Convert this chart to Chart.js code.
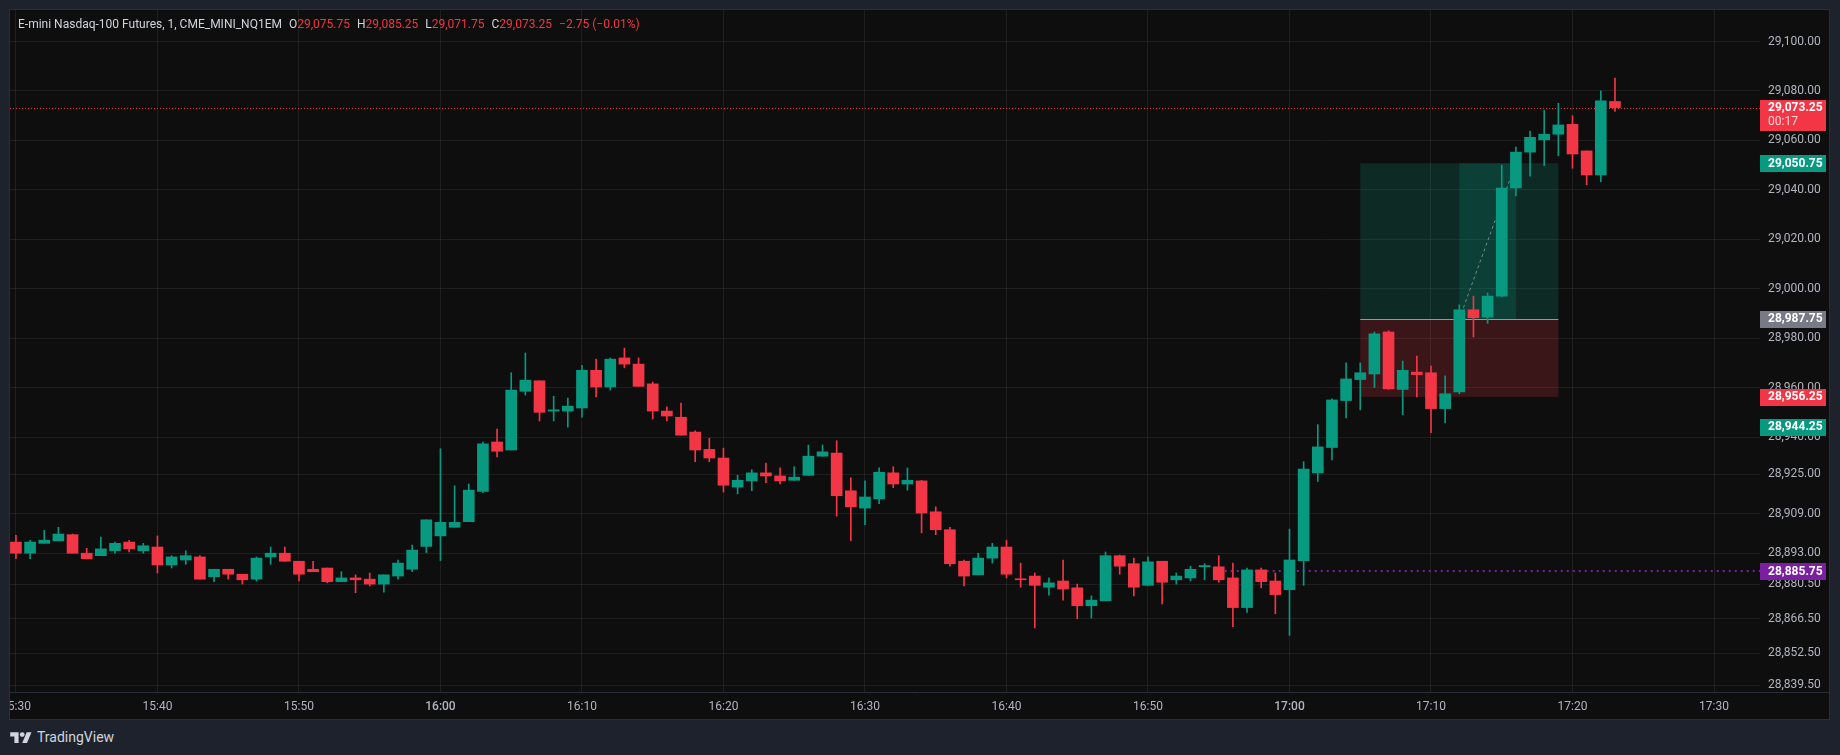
<!DOCTYPE html>
<html lang="en">
<head>
<meta charset="UTF-8">
<title>E-mini Nasdaq-100 Futures, 1, CME_MINI_NQ1EM</title>
<script src="https://cdn.jsdelivr.net/npm/chart.js@4.4.1/dist/chart.umd.min.js"></script>
<style>
    html, body { margin: 0; padding: 0; background: #1e222d; }
    body { width: 1840px; height: 755px; position: relative; overflow: hidden; font-family: Roboto, "Noto Sans", sans-serif; }
    #panel { position: absolute; left: 9px; top: 9px; width: 1821px; height: 711px; background: #0e0e0e; border: 1px solid #2a2e39; box-sizing: border-box; }
    #chart { position: absolute; left: 10px; top: 10px; }
    #legend { position: absolute; left: 18px; top: 16px; font-size: 12px; line-height: 16px; color: #d1d4dc; white-space: pre; }
    #legend .k { margin-left: 7px; }
    #legend .v { color: #f23645; }
    #brand { position: absolute; left: 10px; top: 729px; height: 16px; display: flex; align-items: center; color: #d1d4dc; font-size: 14px; }
    #brand svg { margin-right: 5px; }
</style>
</head>
<body>
<div id="panel"></div>
<canvas id="chart" width="1819" height="709"></canvas>
<div id="legend"></div>
<div id="brand">
    <svg width="22" height="12" viewBox="0 0 36 20"><path fill="#d1d4dc" d="M14 20H7V9H0V2h14v18zM28 20h-8l7.5-18h8L28 20z"/><circle fill="#d1d4dc" cx="20" cy="6" r="4"/></svg>
    <span>TradingView</span>
</div>
<script>
// ---- データ ----
const symbolTitle = 'E-mini Nasdaq-100 Futures, 1, CME_MINI_NQ1EM';

const times = [
    '15:30','15:31','15:32','15:33','15:34','15:35','15:36','15:37','15:38','15:39',
    '15:40','15:41','15:42','15:43','15:44','15:45','15:46','15:47','15:48','15:49',
    '15:50','15:51','15:52','15:53','15:54','15:55','15:56','15:57','15:58','15:59',
    '16:00','16:01','16:02','16:03','16:04','16:05','16:06','16:07','16:08','16:09',
    '16:10','16:11','16:12','16:13','16:14','16:15','16:16','16:17','16:18','16:19',
    '16:20','16:21','16:22','16:23','16:24','16:25','16:26','16:27','16:28','16:29',
    '16:30','16:31','16:32','16:33','16:34','16:35','16:36','16:37','16:38','16:39',
    '16:40','16:41','16:42','16:43','16:44','16:45','16:46','16:47','16:48','16:49',
    '16:50','16:51','16:52','16:53','16:54','16:55','16:56','16:57','16:58','16:59',
    '17:00','17:01','17:02','17:03','17:04','17:05','17:06','17:07','17:08','17:09',
    '17:10','17:11','17:12','17:13','17:14','17:15','17:16','17:17','17:18','17:19',
    '17:20','17:21','17:22','17:23'
];

const open = [
    28897.5, 28893, 28897, 28898, 28900.5, 28893, 28892, 28894, 28897.5, 28894,
    28895.5, 28888.25, 28890.25, 28891.5, 28883.5, 28886.5, 28884.5, 28882.5, 28891.5, 28893,
    28889.75, 28886.5, 28887, 28881.5, 28883, 28882.5, 28880.5, 28883.75, 28886.5, 28895.75,
    28900, 28903.5, 28905.75, 28918, 28938, 28934.75, 28958.5, 28962.75, 28950.5, 28950.5,
    28951.75, 28967, 28960.25, 28972, 28969.5, 28961.5, 28950.5, 28948, 28942, 28935,
    28931.5, 28919.75, 28922.25, 28925.5, 28924.25, 28922.5, 28924.5, 28932.25, 28933.5, 28918.25,
    28911.25, 28915, 28925.5, 28921, 28922.25, 28909.75, 28902.5, 28889.75, 28884.25, 28891,
    28895.5, 28882.5, 28883.75, 28879.25, 28881.75, 28879, 28871.75, 28873.75, 28892, 28888.75,
    28880, 28889.75, 28882.25, 28883, 28887.5, 28887.5, 28883, 28871, 28886.25, 28881.75,
    28878.25, 28890, 28925.5, 28935.75, 28954.75, 28963.25, 28965.5, 28982.5, 28959.25, 28966.25,
    28966, 28951.5, 28958.25, 28991.5, 28988.5, 28997, 29040.75, 29055.25, 29060.25, 29062.5,
    29066.5, 29055.75, 29046, 29075.75
];
const high = [
    28900.25, 28898.25, 28902.25, 28903.5, 28900.75, 28895, 28899.5, 28897.5, 28898.25, 28897,
    28900, 28892, 28894, 28892, 28886.5, 28886.5, 28884.5, 28891.5, 28895.5, 28895.5,
    28889.75, 28889.75, 28887, 28885.5, 28884.25, 28885, 28884.25, 28890.25, 28896.25, 28906.5,
    28935.25, 28920.25, 28921, 28938, 28943.25, 28966, 28974, 28962.75, 28956.5, 28955.75,
    28969, 28971.5, 28972, 28976, 28972, 28962.25, 28952.25, 28953.75, 28942.5, 28939.5,
    28935.5, 28924.5, 28926.75, 28929.5, 28927.5, 28928, 28936.75, 28936.75, 28938.5, 28923.5,
    28922.25, 28927.5, 28928, 28927.5, 28922.5, 28911.75, 28903.5, 28890.25, 28893, 28897,
    28898.25, 28889, 28885, 28883, 28890.25, 28880.5, 28875.75, 28893.5, 28892.25, 28891,
    28891.5, 28889.75, 28885, 28887.75, 28888.75, 28892, 28889, 28887, 28887, 28885,
    28902.75, 28930, 28945, 28955.5, 28970, 28970, 28982.5, 28983, 28970.75, 28972.75,
    28968.75, 28964.75, 28993.5, 28997, 28998.25, 29050, 29057.25, 29063.75, 29072.25, 29075,
    29070, 29055.75, 29080, 29085.25
];
const low = [
    28890.75, 28890.75, 28897, 28898, 28893, 28890.75, 28892, 28893, 28893.5, 28893,
    28885, 28887, 28888.5, 28882.5, 28881.5, 28882.5, 28880.5, 28881.75, 28888.5, 28889.75,
    28881.75, 28885.5, 28881, 28881.5, 28877, 28879.75, 28877.25, 28882.5, 28885.5, 28893.25,
    28890, 28903.5, 28905.75, 28917.5, 28932, 28934.75, 28957, 28946.5, 28946.5, 28944,
    28948, 28956.25, 28959, 28968, 28960.5, 28947.25, 28946.5, 28940.75, 28930, 28930,
    28917.75, 28917, 28918.25, 28921.5, 28921, 28922.5, 28924.5, 28932.25, 28908, 28898,
    28904.5, 28913, 28919.5, 28918.5, 28901.25, 28900.5, 28887.75, 28879.75, 28884.25, 28889,
    28883, 28879.25, 28862.75, 28876, 28874, 28866.5, 28866.75, 28873.75, 28884.5, 28875.75,
    28880, 28872.5, 28880.5, 28881.75, 28882.25, 28881.25, 28863.25, 28869, 28879, 28868.5,
    28859.75, 28880, 28922, 28930.75, 28947.75, 28951, 28960, 28959.25, 28949, 28956.25,
    28941.75, 28945.75, 28957.5, 28980.5, 28986, 28996.75, 29037.5, 29045.5, 29049.75, 29053.75,
    29048.75, 29042, 29043.25, 29071.75
];
const close = [
    28893, 28897.5, 28898.25, 28900.75, 28893, 28890.75, 28894.75, 28897, 28894.75, 28896,
    28888.25, 28891.5, 28892, 28882.5, 28886.5, 28884.5, 28882.25, 28891, 28893, 28889.75,
    28884.5, 28885.5, 28881.5, 28883, 28882.25, 28880.5, 28884.25, 28889, 28894.25, 28906.5,
    28905.5, 28905.5, 28918.5, 28937.25, 28934.25, 28959, 28963, 28950, 28951, 28952.5,
    28967, 28960.25, 28971.5, 28969.5, 28960.5, 28950.5, 28948.5, 28940.75, 28934.75, 28931.5,
    28920.5, 28922.5, 28925.5, 28924.25, 28922.25, 28923.75, 28932.25, 28934, 28916.25, 28911.75,
    28915.75, 28925.75, 28921, 28922.5, 28909.25, 28902.5, 28888.75, 28883.75, 28891, 28895.5,
    28884.5, 28882.25, 28880, 28881, 28878.5, 28871.75, 28874, 28892, 28887.75, 28879.25,
    28889.5, 28881.25, 28883.75, 28886.5, 28888, 28882.25, 28871, 28886.25, 28881.5, 28876.25,
    28890.25, 28927, 28936, 28955, 28963.5, 28966, 28981.75, 28959.5, 28967, 28965.25,
    28951.5, 28957.5, 28991.5, 28988.25, 28997, 29040.75, 29055.25, 29061.25, 29062.5, 29066.25,
    29054.5, 29046, 29076, 29073.25
];

// 軸の目盛り
const priceTicks = [28839.5, 28852.5, 28866.5, 28880.5, 28893, 28909, 28925, 28940, 28960, 28980, 29000, 29020, 29040, 29060, 29080, 29100];
const timeTicks = ['15:30','15:40','15:50','16:00','16:10','16:20','16:30','16:40','16:50','17:00','17:10','17:20','17:30'];
const priceMin = 28836.85;
const priceMax = 29112.75;
const timeMin = -0.42;
const timeMax = 123.25;

// ロングポジション
const positionStart = '17:05';
const positionEnd = '17:19';
const fillStart = '17:12';
const fillEnd = '17:16';
const entryPrice = 28987.75;
const targetPrice = 29050.75;
const stopPrice = 28956.25;

// 価格ラベル
const countdown = '00:17';
const otherPrice = 28944.25;
const alertPrice = 28885.75;
const alertStart = '16:55';

const upColor = '#089981';
const downColor = '#f23645';

// ---- ヘルパー ----
const originMin = 15 * 60 + 30;
function toMin(t) {
    const [h, m] = t.split(':').map(Number);
    return h * 60 + m - originMin;
}
function toLabel(v) {
    const t = originMin + Math.round(v);
    return Math.floor(t / 60) + ':' + String(t % 60).padStart(2, '0');
}
function fmt(v) {
    return v.toLocaleString('en-US', { minimumFractionDigits: 2, maximumFractionDigits: 2 });
}

// ヘッダー (凡例)
const last = times.length - 1;
const lastPrice = close[last];
const change = close[last] - close[last - 1];
const changePct = change / close[last - 1] * 100;
const minus = s => s.replace('-', '\u2212');
const legend = document.getElementById('legend');
legend.innerHTML =
    '<span>' + symbolTitle + '</span>' +
    '<span class="k">O</span><span class="v">' + fmt(open[last]) + '</span>' +
    '<span class="k">H</span><span class="v">' + fmt(high[last]) + '</span>' +
    '<span class="k">L</span><span class="v">' + fmt(low[last]) + '</span>' +
    '<span class="k">C</span><span class="v">' + fmt(close[last]) + '</span>' +
    '<span class="k v">' + minus(change.toFixed(2)) + ' (' + minus(changePct.toFixed(2)) + '%)</span>';

const dirColors = open.map((o, i) => close[i] >= o ? upColor : downColor);

// ---- 描画プラグイン ----
const overlayPlugin = {
    id: 'overlay',
    beforeDatasetsDraw(chart) {
        const ctx = chart.ctx, x = chart.scales.x, y = chart.scales.y, area = chart.chartArea;
        ctx.save();
        const xl = x.getPixelForValue(toMin(positionStart));
        const xr = x.getPixelForValue(toMin(positionEnd));
        const yE = y.getPixelForValue(entryPrice);
        const yT = y.getPixelForValue(targetPrice);
        const yS = y.getPixelForValue(stopPrice);
        ctx.fillStyle = 'rgba(8, 153, 129, 0.2)';
        ctx.fillRect(xl, yT, xr - xl, yE - yT);
        ctx.fillStyle = 'rgba(242, 54, 69, 0.2)';
        ctx.fillRect(xl, yE, xr - xl, yS - yE);
        const xf1 = x.getPixelForValue(toMin(fillStart));
        const xf2 = x.getPixelForValue(toMin(fillEnd));
        ctx.fillStyle = 'rgba(8, 153, 129, 0.2)';
        ctx.fillRect(xf1, yT, xf2 - xf1, yE - yT);

        // エントリーライン
        ctx.strokeStyle = '#9598a1';
        ctx.lineWidth = 1;
        ctx.beginPath();
        ctx.moveTo(xl, Math.round(yE) + 0.5);
        ctx.lineTo(xr, Math.round(yE) + 0.5);
        ctx.stroke();

        // 破線
        ctx.setLineDash([3, 3]);
        ctx.strokeStyle = 'rgba(149, 152, 161, 0.8)';
        ctx.beginPath();
        ctx.moveTo(xf1, yE);
        ctx.lineTo(xf2, yT);
        ctx.stroke();

        // 現在値ライン
        const yL = Math.round(y.getPixelForValue(lastPrice)) + 0.5;
        ctx.setLineDash([1, 2]);
        ctx.strokeStyle = downColor;
        ctx.beginPath();
        ctx.moveTo(area.left, yL);
        ctx.lineTo(area.right, yL);
        ctx.stroke();

        // アラートライン
        const yA = Math.round(y.getPixelForValue(alertPrice));
        ctx.setLineDash([2, 4]);
        ctx.lineWidth = 2;
        ctx.strokeStyle = '#7b1fa2';
        ctx.beginPath();
        ctx.moveTo(x.getPixelForValue(toMin(alertStart)), yA);
        ctx.lineTo(area.right, yA);
        ctx.stroke();
        ctx.restore();
    },
    afterDraw(chart) {
        const ctx = chart.ctx, y = chart.scales.y, area = chart.chartArea;
        ctx.save();
        // 時間軸の区切り線
        ctx.strokeStyle = '#2a2e39';
        ctx.lineWidth = 1;
        ctx.beginPath();
        ctx.moveTo(0, Math.round(area.bottom) + 0.5);
        ctx.lineTo(chart.width, Math.round(area.bottom) + 0.5);
        ctx.stroke();

        const boxLeft = area.right;
        const boxWidth = 66;
        function box(price, bg, lines) {
            const py = y.getPixelForValue(price);
            const top = Math.round(py - 8);
            const h = lines.length > 1 ? 31 : 17;
            ctx.fillStyle = bg;
            ctx.fillRect(boxLeft, top, boxWidth, h);
            ctx.textAlign = 'left';
            ctx.textBaseline = 'middle';
            ctx.fillStyle = '#ffffff';
            ctx.font = 'bold 12px Roboto';
            ctx.fillText(lines[0], boxLeft + 8, py + 0.5);
            if (lines.length > 1) {
                ctx.font = '12px Roboto';
                ctx.fillStyle = 'rgba(255, 255, 255, 0.8)';
                ctx.fillText(lines[1], boxLeft + 8, py + 14);
            }
        }
        box(lastPrice, downColor, [fmt(lastPrice), countdown]);
        box(targetPrice, upColor, [fmt(targetPrice)]);
        box(entryPrice, '#787b86', [fmt(entryPrice)]);
        box(stopPrice, downColor, [fmt(stopPrice)]);
        box(otherPrice, upColor, [fmt(otherPrice)]);
        box(alertPrice, '#7b1fa2', [fmt(alertPrice)]);
        ctx.restore();
    }
};

function noPad(scale) {
    scale.paddingLeft = 0;
    scale.paddingRight = 0;
    scale.paddingTop = 0;
    scale.paddingBottom = 0;
}

Chart.defaults.font.family = 'Roboto';

const ctx = document.getElementById('chart').getContext('2d');
const chart = new Chart(ctx, {
    type: 'bar',
    data: {
        datasets: [
            {
                label: 'body',
                data: times.map((t, i) => ({ x: toMin(t), y: [open[i], close[i]] })),
                backgroundColor: dirColors,
                barThickness: 11,
                minBarLength: 1,
                grouped: false,
                order: 0
            },
            {
                label: 'wick',
                data: times.map((t, i) => ({ x: toMin(t), y: [low[i], high[i]] })),
                backgroundColor: dirColors,
                barThickness: 1,
                minBarLength: 1,
                grouped: false,
                order: 1
            }
        ]
    },
    options: {
        responsive: false,
        animation: false,
        layout: { padding: { left: 0, top: 0, right: 1, bottom: 0 } },
        plugins: {
            legend: { display: false },
            tooltip: { enabled: false }
        },
        scales: {
            x: {
                type: 'linear',
                min: timeMin,
                max: timeMax,
                offset: false,
                grid: { color: 'rgba(242, 242, 242, 0.08)', drawTicks: false, offset: false },
                border: { display: false },
                afterBuildTicks(s) { s.ticks = timeTicks.map(t => ({ value: toMin(t) })); },
                afterFit(s) { s.height = 27; noPad(s); },
                ticks: {
                    autoSkip: false,
                    maxRotation: 0,
                    padding: 8,
                    color: '#b2b5be',
                    font: (c) => ({ family: 'Roboto', size: 12, weight: (c.tick && c.tick.value % 60 === 30) ? '500' : 'normal' }),
                    callback: (v) => toLabel(v)
                }
            },
            y: {
                type: 'linear',
                position: 'right',
                min: priceMin,
                max: priceMax,
                grid: { color: 'rgba(242, 242, 242, 0.08)', drawTicks: false },
                border: { display: false },
                afterBuildTicks(s) { s.ticks = priceTicks.map(v => ({ value: v })); },
                afterFit(s) { s.width = 68; noPad(s); },
                ticks: {
                    padding: 8,
                    color: '#b2b5be',
                    font: { size: 12 },
                    callback: (v) => fmt(v)
                }
            }
        }
    },
    plugins: [overlayPlugin]
});
</script>
</body>
</html>
